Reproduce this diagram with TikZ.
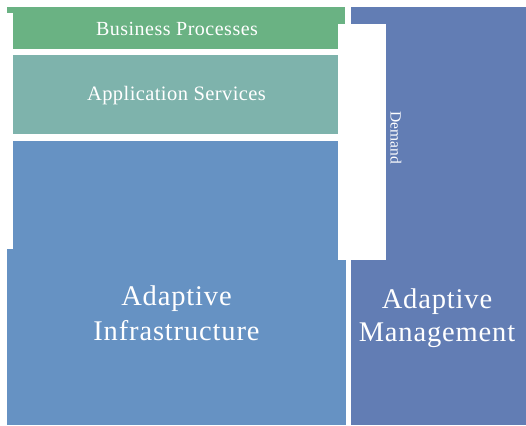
\documentclass[tikz,border=0pt]{standalone}
\usepackage{fontspec}
\setmainfont{Liberation Serif}
\usepackage{tikz}

\definecolor{procgreen}{HTML}{6AB283}
\definecolor{servteal}{HTML}{7EB3AC}
\definecolor{infrablue}{HTML}{6692C3}
\definecolor{mgmtblue}{HTML}{627DB4}

\begin{document}
\begin{tikzpicture}[x=1pt,y=-1pt,
        label/.style={text=white,inner sep=0pt,align=center},
        cut/.style={fill=white}]

  \useasboundingbox (0,0) rectangle (526,425);

  % layers
  \fill[mgmtblue]  (351,7)   rectangle (526,425);
  \fill[procgreen] (7,7)     rectangle (345,49);
  \fill[servteal]  (13,55)   rectangle (345,134);
  \fill[infrablue] (7,141)   rectangle (346,425);

  % white cut-outs
  \fill[cut] (338,24) rectangle (386,260);
  \fill[cut] (7,13)   rectangle (13,249);

  % texts
  \node[label,font=\fontsize{20}{24}\selectfont\addfontfeature{LetterSpace=2.5},anchor=base] (bp) at (177,36) {Business Processes};
  \node[label,font=\fontsize{20.5}{24}\selectfont\addfontfeature{LetterSpace=2},anchor=base] (as) at (176.5,100) {Application Services};
  \node[label,font=\fontsize{28.5}{34}\selectfont\addfontfeature{LetterSpace=3},anchor=base] (ai1) at (176.5,305) {Adaptive};
  \node[label,font=\fontsize{28.5}{34}\selectfont\addfontfeature{LetterSpace=3},anchor=base] (ai2) at (176.5,340) {Infrastructure};
  \node[label,font=\fontsize{28.5}{34}\selectfont\addfontfeature{LetterSpace=3},anchor=base] (am1) at (437,308) {Adaptive};
  \node[label,font=\fontsize{28.5}{34}\selectfont\addfontfeature{LetterSpace=3},anchor=base] (am2) at (437,341) {Management};
  \node[label,font=\fontsize{15.5}{18}\selectfont,rotate=-90] (dm) at (396,138) {Demand};

\end{tikzpicture}
\end{document}
